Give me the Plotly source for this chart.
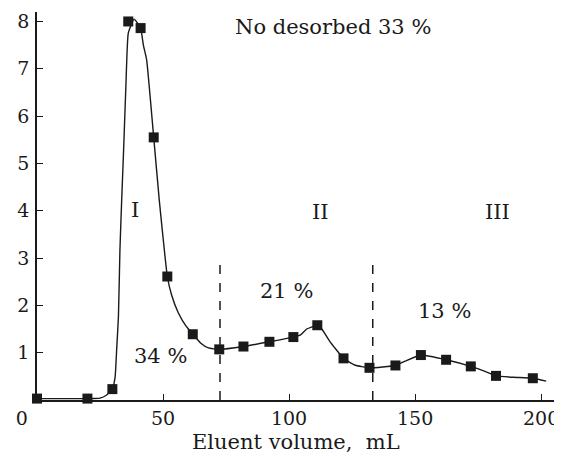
import plotly.graph_objects as go

# Measured points (markers)
vol = [0, 20, 29.9, 36.2, 41.1, 46.3, 51.7, 61.8, 72.3, 81.9, 92.2, 101.7, 111.2,
       121.6, 131.9, 142.2, 152.3, 162.3, 172.1, 182.1, 196.7]
conc = [0.03, 0.03, 0.23, 8.0, 7.86, 5.55, 2.61, 1.39, 1.07, 1.13, 1.23, 1.33, 1.58,
        0.88, 0.68, 0.73, 0.95, 0.85, 0.71, 0.51, 0.46]

# Drawn curve
curve_x = [0, 20, 25, 27.5, 29.9, 31.0, 31.6, 32.3, 32.9, 33.6, 34.3, 35.3, 36.2, 38.5,
           41.1, 42.2, 43.5, 46.3, 48.5, 49.7, 51.7, 53.4, 56, 59, 61.8, 65, 68, 72.3,
           81.9, 92.2, 101.7, 104.4, 107, 111.2, 113, 116, 121.6, 126, 131.9, 142.2,
           146, 152.3, 162.3, 172.1, 178, 182.1, 189, 196.7, 202]
curve_y = [0.03, 0.03, 0.04, 0.1, 0.23, 0.49, 1.06, 1.76, 3.17, 4.23, 5.2, 6.69, 7.75, 8.05,
           7.86, 7.5, 7.19, 5.55, 4.23, 3.59, 2.61, 2.22, 1.85, 1.57, 1.39, 1.2, 1.1, 1.07,
           1.13, 1.23, 1.33, 1.37, 1.5, 1.58, 1.5, 1.25, 0.88, 0.74, 0.68, 0.73,
           0.82, 0.95, 0.85, 0.71, 0.6, 0.51, 0.48, 0.46, 0.40]

boundaries = [72.6, 133.2]
boundary_top = 3.0

x_ticks = [0, 50, 100, 150, 200]
x_tick_text = ["0" + "\u00a0" * 5, "50", "100", "150", "200"]
y_ticks = [1, 2, 3, 4, 5, 6, 7, 8]

labels = [
    ("No desorbed 33 %", 117.5, 7.89),
    ("I", 38.9, 4.02),
    ("II", 112.3, 3.97),
    ("III", 182.5, 3.97),
    ("34 %", 48.8, 0.92),
    ("21 %", 99.1, 2.3),
    ("13 %", 161.5, 1.88),
]

FONT = "DejaVu Serif"
INK = "#1a1a1a"

fig = go.Figure()
fig.add_trace(go.Scatter(x=curve_x, y=curve_y, mode="lines",
                         line=dict(color=INK, width=1.4, shape="spline", smoothing=0.4),
                         hoverinfo="skip", showlegend=False, cliponaxis=False))
fig.add_trace(go.Scatter(x=vol, y=conc, mode="markers",
                         marker=dict(symbol="square", size=10, color=INK),
                         showlegend=False, cliponaxis=False))
for b in boundaries:
    fig.add_trace(go.Scatter(x=[b, b], y=[0, boundary_top], mode="lines",
                             line=dict(color=INK, width=1.5, dash="dash"),
                             showlegend=False, hoverinfo="skip"))

for text, x, y in labels:
    fig.add_annotation(x=x, y=y, text=text, showarrow=False,
                       font=dict(family=FONT, size=21, color=INK))

fig.add_annotation(x=0.5, xref="paper", y=-0.072, yref="paper",
                   text="Eluent volume,\u00a0\u00a0mL",
                   showarrow=False, yanchor="top",
                   font=dict(family=FONT, size=21, color=INK))

# page has an 8px body margin, so the figure is shrunk and offset accordingly
fig.update_layout(
    width=554, height=450,
    margin=dict(l=29, r=7, t=4, b=58),
    paper_bgcolor="white", plot_bgcolor="white",
    font=dict(family=FONT, size=19, color=INK),
    xaxis=dict(range=[0, 205.5], tickvals=x_ticks, ticktext=x_tick_text,
               ticks="inside", ticklen=6, tickcolor=INK, showline=True, linecolor=INK,
               linewidth=1.5, showgrid=False, zeroline=False, tickfont=dict(size=19),
               automargin=False),
    yaxis=dict(range=[0, 8.2], tickvals=y_ticks, ticks="inside", ticklen=6, tickcolor=INK,
               showline=True, linecolor=INK, linewidth=1.5, showgrid=False, zeroline=False,
               tickfont=dict(size=19), ticklabelstandoff=2, automargin=False),
)

fig.write_html("out.html")
